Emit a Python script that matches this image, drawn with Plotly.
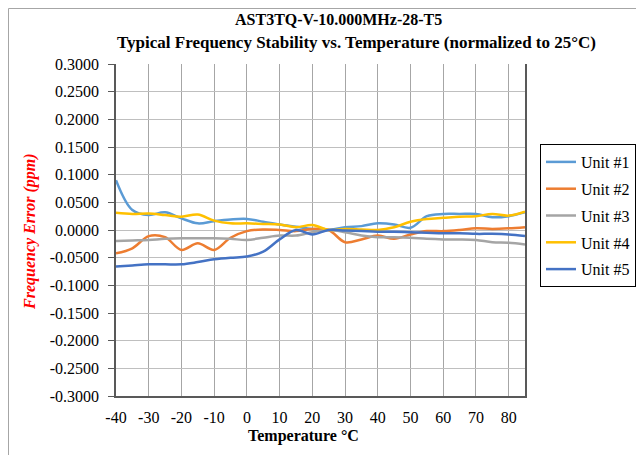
import plotly.graph_objects as go

temps = [-40, -35, -30, -25, -20, -15, -10, -5, 0, 5, 10, 15, 20, 25, 30, 35, 40, 45, 50, 55, 60, 65, 70, 75, 80, 85]

unit1 = [0.090, 0.036, 0.027, 0.032, 0.021, 0.012, 0.016, 0.019, 0.020, 0.015, 0.010, 0.006, 0.002, 0.000,
         0.005, 0.007, 0.012, 0.010, 0.004, 0.025, 0.029, 0.029, 0.029, 0.023, 0.025, 0.032]
unit2 = [-0.042, -0.033, -0.011, -0.013, -0.036, -0.024, -0.036, -0.014, -0.002, 0.001, 0.000, -0.002, 0.002, 0.000,
         -0.022, -0.017, -0.010, -0.016, -0.008, -0.002, -0.002, 0.000, 0.003, 0.002, 0.003, 0.005]
unit3 = [-0.020, -0.019, -0.018, -0.016, -0.015, -0.015, -0.015, -0.016, -0.018, -0.014, -0.010, -0.010, -0.004, 0.000,
         -0.004, -0.010, -0.013, -0.013, -0.014, -0.016, -0.017, -0.017, -0.018, -0.022, -0.023, -0.026]
unit4 = [0.031, 0.029, 0.030, 0.027, 0.024, 0.028, 0.017, 0.012, 0.012, 0.011, 0.010, 0.005, 0.009, 0.000,
         0.002, 0.001, 0.000, 0.005, 0.015, 0.020, 0.022, 0.024, 0.025, 0.029, 0.026, 0.033]
unit5 = [-0.066, -0.064, -0.062, -0.062, -0.062, -0.058, -0.053, -0.050, -0.048, -0.039, -0.017, 0.000, -0.008, 0.000,
         -0.001, -0.002, -0.003, -0.003, -0.004, -0.005, -0.006, -0.006, -0.007, -0.007, -0.008, -0.011]

series_names = ["Unit #1", "Unit #2", "Unit #3", "Unit #4", "Unit #5"]
series_values = [unit1, unit2, unit3, unit4, unit5]
colors = ["#5B9BD5", "#ED7D31", "#A5A5A5", "#FFC000", "#4472C4"]

x_ticks = [-40, -30, -20, -10, 0, 10, 20, 30, 40, 50, 60, 70, 80]
x_tick_labels = ["-40", "-30", "-20", "-10", "0", "10", "20", "30", "40", "50", "60", "70", "80"]
y_ticks = [0.3, 0.25, 0.2, 0.15, 0.1, 0.05, 0.0, -0.05, -0.1, -0.15, -0.2, -0.25, -0.3]
y_tick_labels = ["0.3000", "0.2500", "0.2000", "0.1500", "0.1000", "0.0500", "0.0000",
                 "-0.0500", "-0.1000", "-0.1500", "-0.2000", "-0.2500", "-0.3000"]

FONT = "Liberation Serif, Times New Roman, serif"

# page-pixel -> paper helpers (plot area spans page x 116..525, y 64..396)
def px(xp):
    return (xp - 116) / 409

def py(yp):
    return (396 - yp) / 332

fig = go.Figure()
for name, vals, col in zip(series_names, series_values, colors):
    fig.add_trace(go.Scatter(
        x=temps, y=vals, name=name, mode="lines",
        line=dict(color=col, width=2.5, shape="spline", smoothing=1.0),
        legendgroup=name,
    ))

fig.update_layout(
    width=636, height=447,
    margin=dict(l=108, r=119, t=56, b=59, autoexpand=False),
    paper_bgcolor="white", plot_bgcolor="white",
    font=dict(family=FONT, size=16, color="black"),
    showlegend=True,
    legend=dict(
        x=px(540), y=py(144), xanchor="left", yanchor="top",
        bordercolor="black", borderwidth=1,
        font=dict(family=FONT, size=16, color="black"),
        tracegroupgap=3, traceorder="grouped",
        bgcolor="white",
    ),
    xaxis=dict(
        range=[-40, 85], tickmode="array", tickvals=x_ticks, ticktext=x_tick_labels,
        showgrid=True, gridcolor="#A6A6A6", gridwidth=1,
        showline=True, linecolor="#595959", linewidth=1.5,
        ticks="", ticklabelstandoff=6,
        tickfont=dict(family=FONT, size=16, color="black"),
        zeroline=False,
    ),
    yaxis=dict(
        range=[-0.3, 0.3], tickmode="array", tickvals=y_ticks, ticktext=y_tick_labels,
        showgrid=True, gridcolor="#BFBFBF", gridwidth=1,
        showline=True, linecolor="#595959", linewidth=1.5, mirror=True,
        ticks="outside", ticklen=6, tickcolor="#595959",
        ticklabelstandoff=6,
        tickfont=dict(family=FONT, size=16, color="black"),
        zeroline=False,
    ),
    annotations=[
        dict(text="<b>AST3TQ-V-10.000MHz-28-T5</b>", xref="paper", yref="paper",
             x=px(338), y=py(20), xanchor="center", yanchor="middle",
             showarrow=False, font=dict(family=FONT, size=16, color="black")),
        dict(text="<b>Typical Frequency Stability vs. Temperature (normalized to 25°C)</b>",
             xref="paper", yref="paper",
             x=px(356), y=py(42), xanchor="center", yanchor="middle",
             showarrow=False, font=dict(family=FONT, size=17, color="black")),
        dict(text="<b>Temperature °C</b>", xref="paper", yref="paper",
             x=px(303), y=py(436), xanchor="center", yanchor="middle",
             showarrow=False, font=dict(family=FONT, size=16, color="black")),
        dict(text="<b><i>Frequency Error (ppm)</i></b>", xref="paper", yref="paper",
             x=px(30), y=py(232), xanchor="center", yanchor="middle",
             textangle=-90, showarrow=False, font=dict(family=FONT, size=16, color="red")),
    ],
    shapes=[
        dict(type="line", xref="paper", yref="paper",
             x0=px(8.5), x1=px(8.5), y0=py(8.5), y1=py(470),
             line=dict(color="#A6A6A6", width=1)),
        dict(type="line", xref="paper", yref="paper",
             x0=px(8.5), x1=px(660), y0=py(8.5), y1=py(8.5),
             line=dict(color="#A6A6A6", width=1)),
    ],
)

fig.write_html("out.html")
